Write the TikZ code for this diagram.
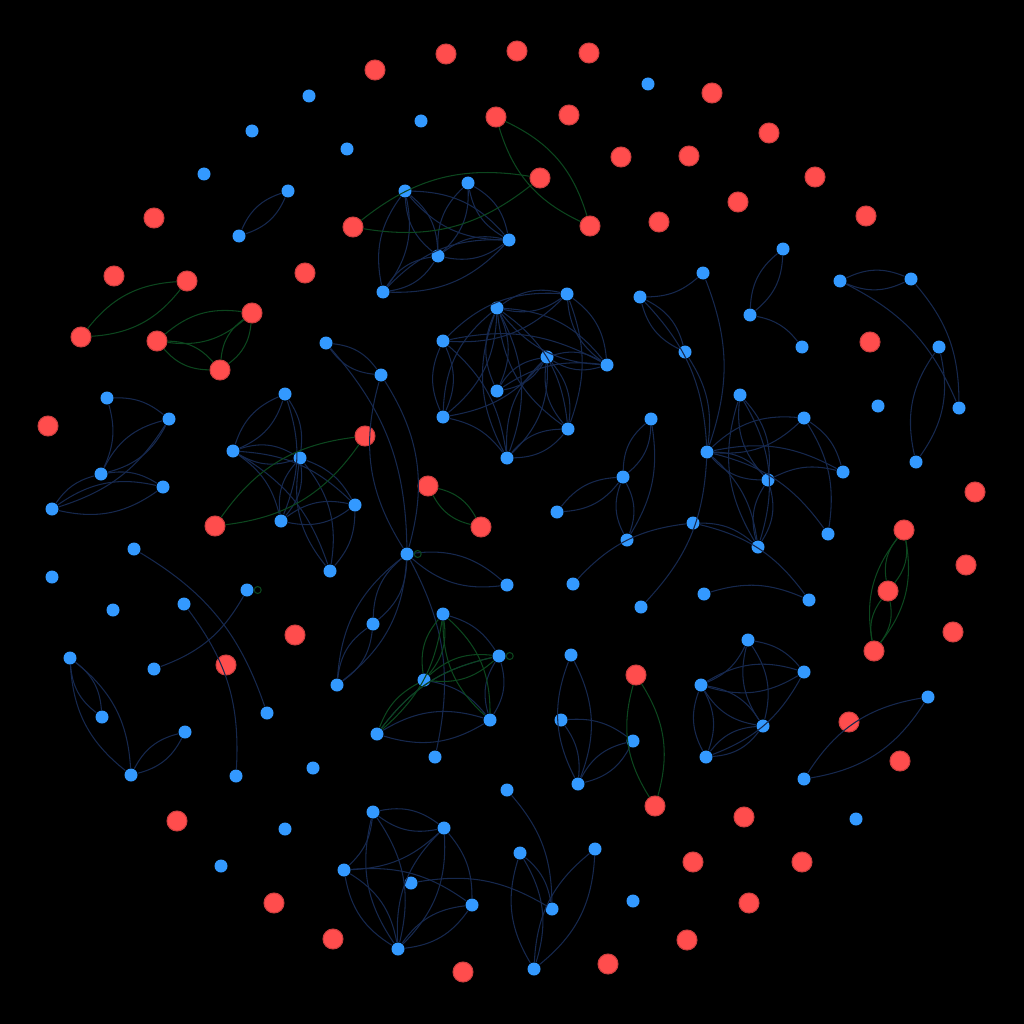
\documentclass[tikz,border=0pt]{standalone}
\usepackage{tikz}
\definecolor{nodered}{RGB}{255,77,77}
\definecolor{nodeblue}{RGB}{51,153,255}
\definecolor{linkblue}{RGB}{22,40,78}
\definecolor{linkgreen}{RGB}{12,70,30}
\tikzset{
  rednode/.style={circle,fill=nodered,draw=nodered!80!black,line width=0.3pt,minimum size=2mm,inner sep=0pt},
  bluenode/.style={circle,fill=nodeblue,minimum size=1.3mm,inner sep=0pt},
  link/.style={draw=linkblue,line width=0.3pt},
  glink/.style={draw=linkgreen,line width=0.3pt}
}
\begin{document}
\begin{tikzpicture}[x=0.1mm,y=-0.1mm]
\fill[black] (0,0) rectangle (1024,1024);

% red nodes
\foreach \i/\x/\y in {1/375/70, 2/446/54, 3/517/51, 4/589/53, 5/712/93, 6/496/117,
  7/569/115, 8/769/133, 9/621/157, 10/689/156, 11/815/177, 12/540/178, 13/738/202,
  14/154/218, 15/353/227, 16/590/226, 17/659/222, 18/866/216, 19/114/276, 20/187/281,
  21/305/273, 22/81/337, 23/157/341, 24/252/313, 25/220/370, 26/870/342, 27/48/426,
  28/365/436, 29/428/486, 30/481/527, 31/215/526, 32/975/492, 33/904/530, 34/966/565,
  35/888/591, 36/953/632, 37/874/651, 38/295/635, 39/226/665, 40/636/675, 41/849/722,
  42/900/761, 43/655/806, 44/744/817, 45/177/821, 46/693/862, 47/802/862, 48/274/903,
  49/749/903, 50/333/939, 51/687/940, 52/463/972, 53/608/964}
  \node[rednode] (r\i) at (\x,\y) {};

% blue nodes
\foreach \i/\x/\y in {1/309/96, 2/252/131, 3/347/149, 4/204/174, 5/288/191, 6/239/236,
  7/421/121, 8/648/84, 9/405/191, 10/468/183, 11/509/240, 12/438/256, 13/383/292,
  14/783/249, 15/840/281, 16/911/279, 17/703/273, 18/640/297, 19/750/315, 20/802/347,
  21/685/352, 22/939/347, 23/959/408, 24/878/406, 25/916/462,
  26/497/308, 27/567/294, 28/443/341, 29/547/357, 30/607/365, 31/497/391, 32/443/417,
  33/568/429, 34/507/458, 35/326/343, 36/381/375, 37/107/398, 38/169/419, 39/101/474,
  40/163/487, 41/52/509, 42/285/394, 43/233/451, 44/300/458, 45/355/505, 46/281/521,
  47/330/571, 48/651/419, 49/740/395, 50/804/418, 51/707/452, 52/768/480, 53/843/472,
  54/623/477, 55/557/512, 56/627/540, 57/693/523, 58/758/547, 59/828/534,
  60/407/554, 61/507/585, 62/573/584, 63/641/607, 64/704/594, 65/809/600,
  66/134/549, 67/52/577, 68/113/610, 69/184/604, 70/247/590, 71/70/658, 72/154/669,
  73/102/717, 74/185/732, 75/131/775, 76/267/713, 77/236/776, 78/313/768,
  79/373/624, 80/443/614, 81/499/656, 82/424/680, 83/490/720, 84/377/734, 85/337/685,
  86/435/757, 87/571/655, 88/561/720, 89/633/741, 90/578/784, 91/748/640, 92/804/672,
  93/701/685, 94/763/726, 95/706/757, 96/928/697, 97/804/779, 98/856/819,
  99/507/790, 100/373/812, 101/444/828, 102/344/870, 103/411/883, 104/472/905,
  105/398/949, 106/285/829, 107/221/866, 108/520/853, 109/595/849, 110/552/909,
  111/633/901, 112/534/969}
  \node[bluenode] (b\i) at (\x,\y) {};

% two-way links
\foreach \a/\b in {b5/b6, b9/b12, b9/b11, b9/b13, b10/b12, b10/b11, b12/b11, b12/b13, b13/b11,
  b14/b19, b15/b16, b22/b25, b18/b21,
  b26/b27, b26/b30, b27/b30, b28/b32, b26/b32, b26/b34, b26/b31, b29/b31, b29/b34,
  b29/b33, b29/b30, b33/b34, b28/b27, b26/b33,
  b49/b52, b49/b58, b50/b51, b51/b52, b52/b58, b48/b54, b54/b56, b54/b55,
  b38/b39, b41/b40, b42/b43, b43/b44, b44/b46, b44/b47, b46/b45,
  b35/b36, b36/b60, b60/b61, b60/b79, b60/b85, b79/b85,
  b71/b75, b71/b73, b74/b75, b84/b83, b81/b83,
  b87/b90, b89/b90, b91/b94, b92/b93, b93/b94, b93/b95, b94/b95, b96/b97,
  b100/b101, b100/b105, b101/b105, b102/b105, b104/b105, b108/b112, b109/b112}
{
  \draw[link] (\a) to[bend left=24] (\b);
  \draw[link] (\a) to[bend right=24] (\b);
}

% one-way links
\foreach \a/\b in {b19/b20, b15/b23, b16/b23, b17/b18, b17/b51, b18/b51, b21/b51,
  b28/b30, b28/b34, b29/b32, b31/b30, b32/b34, b27/b33,
  b50/b53, b50/b59, b51/b59, b52/b53, b51/b53, b51/b58, b57/b58, b57/b65, b64/b65,
  b51/b63, b62/b57, b48/b56,
  b37/b38, b37/b39, b38/b41, b39/b40, b41/b39,
  b42/b44, b42/b46, b43/b46, b43/b45, b43/b47, b44/b45, b45/b47,
  b35/b60, b60/b86, b66/b76, b70/b72, b69/b77,
  b80/b81, b82/b83, b84/b81, b88/b89, b88/b90,
  b91/b92, b91/b93, b92/b95, b100/b102, b101/b102, b101/b104, b102/b104,
  b103/b110, b99/b110, b108/b110}
  \draw[link] (\a) to[bend left=20] (\b);

% green links
\foreach \a/\b in {r20/r22, r23/r24, r24/r25, r23/r25, r6/r16, r12/r15, r28/r31,
  r29/r30, r33/r37, r33/r35, r35/r37, r40/r43, b80/b82, b80/b83, b82/b81}
{
  \draw[glink] (\a) to[bend left=24] (\b);
  \draw[glink] (\a) to[bend right=24] (\b);
}
\foreach \a/\b in {b80/b84, b84/b81, b84/b82}
  \draw[glink] (\a) to[bend left=20] (\b);

% self loops
\foreach \n in {b60, b70, b81}
  \draw[glink] ([xshift=0.35mm]\n.east) circle (0.35mm);

\end{tikzpicture}
\end{document}
